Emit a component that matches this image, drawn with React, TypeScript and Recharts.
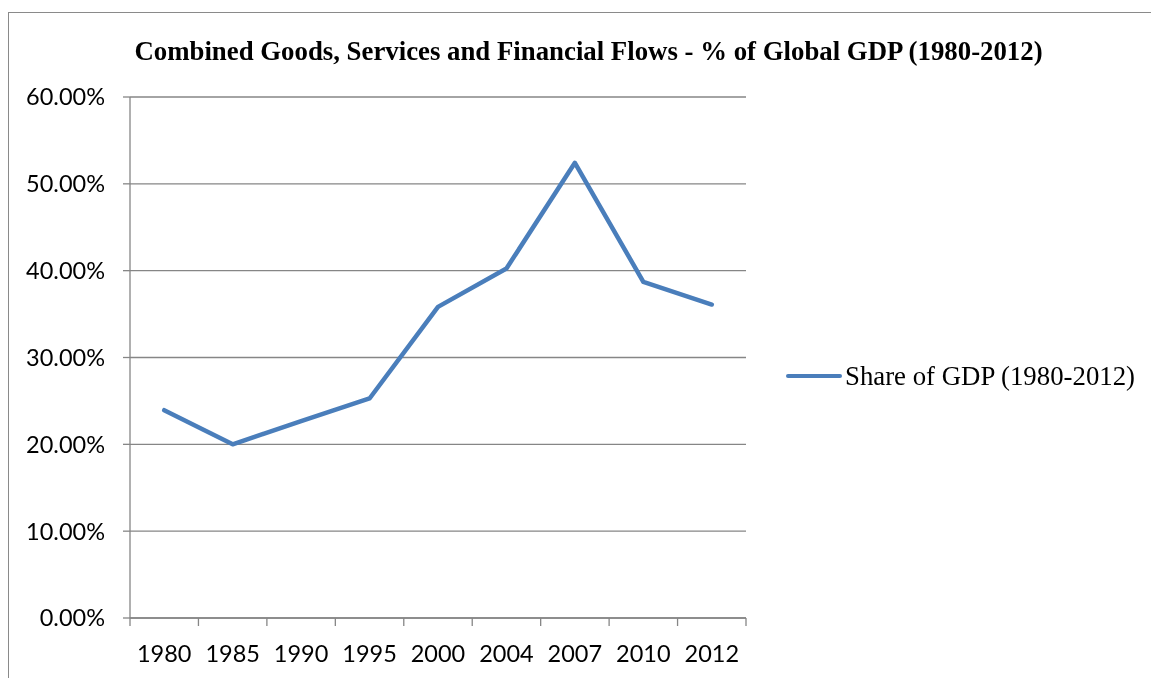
import React from "react";
import { LineChart, Line, XAxis, YAxis, CartesianGrid } from "recharts";

const categories = ["1980", "1985", "1990", "1995", "2000", "2004", "2007", "2010", "2012"];
const shareValues = [0.2393, 0.2, 0.2268, 0.2528, 0.3583, 0.4025, 0.5242, 0.3871, 0.361];
const yTicks = [0, 0.1, 0.2, 0.3, 0.4, 0.5, 0.6];
const seriesName = "Share of GDP (1980-2012)";
const title = "Combined Goods, Services and Financial Flows - % of Global GDP (1980-2012)";

const data = categories.map((c, i) => ({ year: c, share: shareValues[i] }));

const W = 1135;
const H = 662;
const MARGIN = { top: 89, right: 397, left: 0, bottom: 0 };
const Y_W = 122;
const X_H = 52;
const PLOT_W = W - MARGIN.left - MARGIN.right - Y_W;
const BW = PLOT_W / categories.length;
const GRID = "#868686";
const BLUE = "#4a7ebb";
const SANS = "Lato, 'Open Sans', sans-serif";
const SERIF = "'Liberation Serif', 'Times New Roman', serif";
const TICK_FS = 23.5;

function XTick(props: any) {
  const { x, y, payload, index } = props;
  const last = index === categories.length - 1;
  return (
    <g>
      <line x1={x - BW / 2} x2={x - BW / 2} y1={y} y2={y + 8} stroke={GRID} strokeWidth={1.3} />
      {last && <line x1={x + BW / 2} x2={x + BW / 2} y1={y} y2={y + 8} stroke={GRID} strokeWidth={1.3} />}
      <text x={x} y={y + 44} textAnchor="middle" fontFamily={SANS} fontSize={TICK_FS} fill="#000">
        {payload.value}
      </text>
    </g>
  );
}

export default function App() {
  return (
    <div style={{ position: "relative", width: W, height: H }}>
      <div
        style={{
          position: "fixed",
          left: 8,
          top: 12,
          width: 1143,
          height: 666,
          borderTop: "1.5px solid #8a8a8a",
          borderLeft: "1.5px solid #8a8a8a",
          boxSizing: "border-box",
          pointerEvents: "none",
        }}
      />
      <div
        style={{
          position: "absolute",
          left: 0,
          width: 1161,
          top: 28,
          textAlign: "center",
          fontFamily: SERIF,
          fontWeight: "bold",
          fontSize: 26.8,
          lineHeight: "30px",
          color: "#000",
          whiteSpace: "nowrap",
        }}
      >
        {title}
      </div>
      <LineChart width={W} height={H} data={data} margin={MARGIN}>
        <CartesianGrid vertical={false} stroke={GRID} strokeWidth={1.3} />
        <XAxis
          dataKey="year"
          scale="band"
          height={X_H}
          interval={0}
          tickSize={0}
          tickMargin={0}
          axisLine={{ stroke: GRID, strokeWidth: 1.3 }}
          tickLine={false}
          tick={<XTick />}
        />
        <YAxis
          width={Y_W}
          domain={[0, 0.6]}
          ticks={yTicks}
          interval={0}
          tickSize={7}
          tickMargin={18}
          axisLine={{ stroke: GRID, strokeWidth: 1.3 }}
          tickLine={{ stroke: GRID, strokeWidth: 1.3 }}
          tick={{ fill: "#000", fontSize: TICK_FS, fontFamily: SANS }}
          tickFormatter={(v: number) => (v * 100).toFixed(2) + "%"}
        />
        <Line
          type="linear"
          dataKey="share"
          name={seriesName}
          stroke={BLUE}
          strokeWidth={4.5}
          strokeLinecap="round"
          strokeLinejoin="round"
          dot={false}
          activeDot={false}
          isAnimationActive={false}
        />
      </LineChart>
      <div
        style={{
          position: "absolute",
          left: 778,
          top: 351,
          display: "flex",
          alignItems: "center",
          whiteSpace: "nowrap",
        }}
      >
        <div style={{ width: 56, height: 4.5, background: BLUE, borderRadius: 2.5, marginRight: 3 }} />
        <span style={{ fontFamily: SERIF, fontSize: 26.8, lineHeight: "34px", color: "#000" }}>{seriesName}</span>
      </div>
    </div>
  );
}
